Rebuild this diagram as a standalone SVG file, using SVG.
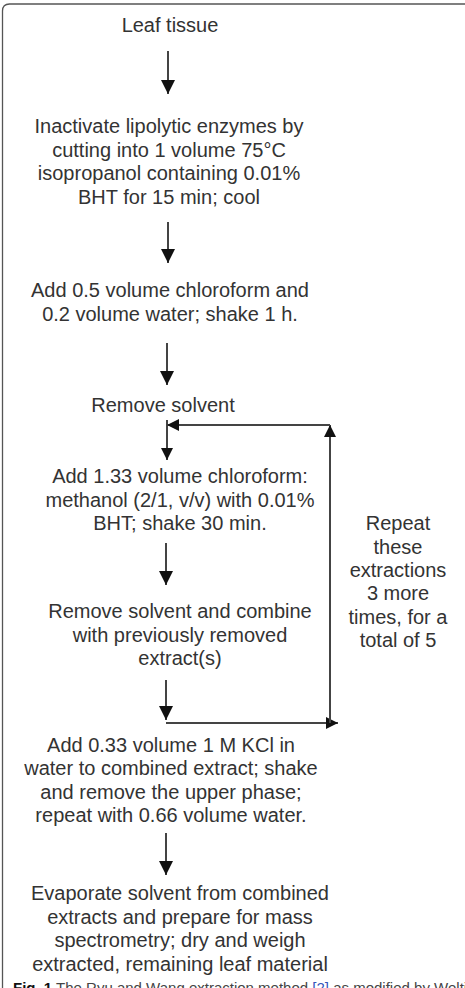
<svg xmlns="http://www.w3.org/2000/svg" width="465" height="988" viewBox="0 0 465 988">
<style>
  .t { font-family: "Liberation Sans", Arial, sans-serif; font-size: 20px; fill: #333; text-anchor: middle; }
  .c { stroke: #444; stroke-width: 2; fill: none; }
  .cap { font-family: "Liberation Sans", Arial, sans-serif; font-size: 15px; fill: #444; }
</style>
<defs>
  <marker id="ah" viewBox="0 0 10 10" refX="10" refY="5" markerUnits="userSpaceOnUse" markerWidth="14" markerHeight="14" orient="auto">
    <path d="M0,0 L10,5 L0,10 z" fill="#111"/>
  </marker>
  <marker id="ahs" viewBox="0 0 10 10" refX="10" refY="5" markerUnits="userSpaceOnUse" markerWidth="12" markerHeight="12" orient="auto">
    <path d="M0,0 L10,5 L0,10 z" fill="#111"/>
  </marker>
</defs>
<rect x="0" y="0" width="465" height="988" fill="#fff"/>
<path d="M2.5,990 L2.5,11 Q2.5,4 9.5,4 L470,4" fill="none" stroke="#555" stroke-width="1.3"/>

<g id="n1"><text class="t" x="170" y="32">Leaf tissue</text></g>
<g id="n2"><text class="t" x="169" y="133">Inactivate lipolytic enzymes by</text>
  <text class="t" x="169" y="156.5">cutting into 1 volume 75°C</text>
  <text class="t" x="169" y="180">isopropanol containing 0.01%</text>
  <text class="t" x="169" y="203.5">BHT for 15 min; cool</text></g>
<g id="n3"><text class="t" x="170" y="297">Add 0.5 volume chloroform and</text>
  <text class="t" x="170" y="321">0.2 volume water; shake 1 h.</text></g>
<g id="n4"><text class="t" x="163" y="412">Remove solvent</text></g>
<g id="n5"><text class="t" x="180" y="483">Add 1.33 volume chloroform:</text>
  <text class="t" x="180" y="506.5">methanol (2/1, v/v) with 0.01%</text>
  <text class="t" x="180" y="530">BHT; shake 30 min.</text></g>
<g id="n6"><text class="t" x="180" y="618">Remove solvent and combine</text>
  <text class="t" x="180" y="641.5">with previously removed</text>
  <text class="t" x="180" y="665">extract(s)</text></g>
<g id="n7"><text class="t" x="171" y="752">Add 0.33 volume 1 M KCl in</text>
  <text class="t" x="171" y="775">water to combined extract; shake</text>
  <text class="t" x="171" y="798.5">and remove the upper phase;</text>
  <text class="t" x="171" y="822">repeat with 0.66 volume water.</text></g>
<g id="n8"><text class="t" x="180" y="900">Evaporate solvent from combined</text>
  <text class="t" x="180" y="923.5">extracts and prepare for mass</text>
  <text class="t" x="180" y="947">spectrometry; dry and weigh</text>
  <text class="t" x="180" y="970.5">extracted, remaining leaf material</text></g>
<g id="note"><text class="t" x="398" y="530">Repeat</text>
  <text class="t" x="398" y="553.5">these</text>
  <text class="t" x="398" y="577">extractions</text>
  <text class="t" x="398" y="600">3 more</text>
  <text class="t" x="398" y="623.5">times, for a</text>
  <text class="t" x="398" y="647">total of 5</text></g>

<g id="connectors">
  <line class="c" x1="168" y1="51" x2="168" y2="94" marker-end="url(#ah)"/>
  <line class="c" x1="168" y1="222" x2="168" y2="263" marker-end="url(#ah)"/>
  <line class="c" x1="167" y1="343" x2="167" y2="385" marker-end="url(#ah)"/>
  <line class="c" x1="167" y1="420" x2="167" y2="460" marker-end="url(#ahs)"/>
  <line class="c" x1="166" y1="543" x2="166" y2="585" marker-end="url(#ah)"/>
  <line class="c" x1="166" y1="680" x2="166" y2="720" marker-end="url(#ah)"/>
  <line class="c" x1="166" y1="833" x2="166" y2="875" marker-end="url(#ah)"/>
  <line class="c" x1="166" y1="723" x2="338" y2="723" marker-end="url(#ahs)"/>
  <line class="c" x1="330" y1="723" x2="330" y2="425" marker-end="url(#ahs)"/>
  <line class="c" x1="330" y1="425" x2="167" y2="425" marker-end="url(#ahs)"/>
</g>

<g id="caption"><text class="cap" x="13" y="993"><tspan font-weight="bold" fill="#111">Fig. 1</tspan>  The Ryu and Wang extraction method <tspan fill="#3355bb">[2]</tspan> as modified by Welti</text></g>
</svg>
